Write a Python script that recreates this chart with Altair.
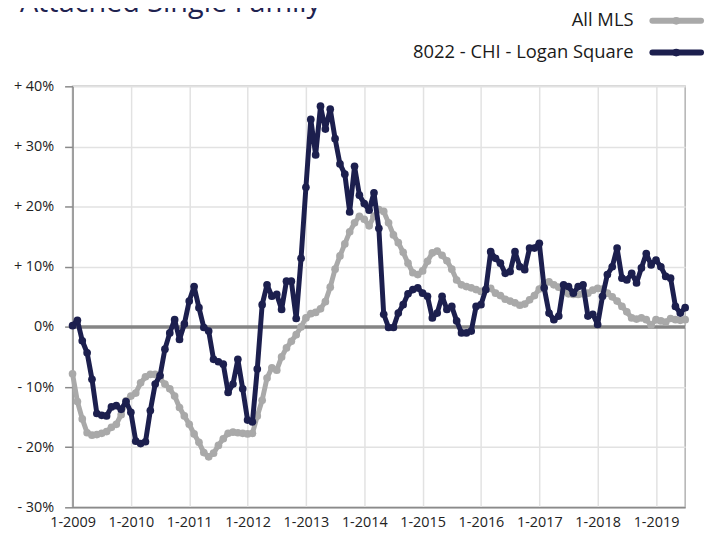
import altair as alt
import pandas as pd

title_text = "Attached Single Family"
series_names = ["All MLS", "8022 - CHI - Logan Square"]
series_colors = ["#a9a9a9", "#1c1f4e"]
first_year = 2009
y_ticks = [-30, -20, -10, 0, 10, 20, 30, 40]
x_tick_months = [0, 12, 24, 36, 48, 60, 72, 84, 96, 108, 120]

# Year-over-year change (%), monthly, Jan 2009 .. Jul 2019
all_mls = [
    -7.8, -12.4, -15.3, -17.6, -18.0, -17.9, -17.7, -17.4, -16.7, -16.2, -14.6, -12.3,  # 2009
    -11.5, -11.0, -9.3, -8.3, -7.9, -7.9, -8.6, -9.5, -10.3, -11.5, -13.4, -14.8,  # 2010
    -16.2, -17.8, -19.2, -20.9, -21.6, -21.0, -19.7, -18.6, -17.7, -17.5, -17.6, -17.7,  # 2011
    -17.8, -17.7, -14.8, -12.2, -8.5, -6.8, -7.2, -5.0, -3.5, -2.4, -1.3, 0.0,  # 2012
    1.5, 2.2, 2.4, 3.0, 4.2, 6.6, 9.6, 11.8, 13.8, 15.8, 17.3, 18.4,  # 2013
    17.9, 16.8, 18.4, 19.5, 19.2, 17.3, 15.3, 14.0, 12.4, 10.6, 9.0, 8.7,  # 2014
    9.3, 10.9, 12.3, 12.6, 11.9, 11.0, 9.6, 7.8, 7.0, 6.7, 6.5, 6.2,  # 2015
    5.9, 6.2, 6.4, 5.6, 5.2, 4.6, 4.3, 4.0, 3.6, 3.8, 4.5, 5.2,  # 2016
    6.3, 7.3, 7.5, 7.0, 6.6, 5.9, 5.5, 5.4, 5.4, 5.5, 5.6, 6.1,  # 2017
    6.4, 6.3, 5.6, 5.0, 4.3, 3.4, 2.5, 1.5, 1.3, 1.5, 1.2, 0.3,  # 2018
    1.2, 1.0, 0.8, 1.4, 1.2, 1.1, 1.2,  # 2019
]

logan_square = [
    0.2, 1.1, -2.3, -4.3, -8.7, -14.4, -14.7, -14.8, -13.3, -13.1, -13.7, -12.4,  # 2009
    -14.2, -19.0, -19.4, -19.1, -13.9, -9.5, -8.1, -3.7, -1.0, 1.2, -2.1, 0.5,  # 2010
    4.3, 6.7, 3.2, -0.1, -0.7, -5.4, -5.8, -6.2, -10.9, -9.5, -5.4, -10.3,  # 2011
    -15.5, -15.8, -7.0, 3.7, 7.0, 5.1, 5.4, 2.9, 7.6, 7.6, 1.4, 11.4,  # 2012
    23.2, 34.5, 28.6, 36.7, 32.9, 36.2, 31.3, 27.1, 25.4, 19.1, 26.7, 21.9,  # 2013
    20.5, 19.4, 22.3, 16.4, 2.1, -0.1, -0.1, 2.3, 3.7, 5.5, 6.2, 6.5,  # 2014
    5.6, 5.1, 1.5, 2.3, 5.1, 2.9, 3.4, 1.0, -1.0, -1.0, -0.7, 3.4,  # 2015
    3.7, 6.2, 12.5, 11.4, 10.6, 8.9, 9.2, 12.5, 10.0, 9.5, 13.1, 13.1,  # 2016
    13.9, 6.5, 2.3, 1.2, 1.8, 7.0, 6.7, 5.6, 6.7, 7.0, 1.8, 2.1,  # 2017
    0.4, 5.1, 8.7, 10.0, 13.1, 8.1, 7.8, 8.9, 7.3, 9.8, 12.2, 10.3,  # 2018
    11.1, 10.0, 8.4, 8.1, 3.4, 2.3, 3.2,  # 2019
]

df_gray = pd.DataFrame({"month": list(range(len(all_mls))), "value": all_mls})
df_navy = pd.DataFrame({"month": list(range(len(logan_square))), "value": logan_square})

FONT = "Open Sans"
last_month = len(all_mls) - 1

x_enc = alt.X(
    "month:Q",
    scale=alt.Scale(domain=[0, last_month], nice=False, zero=False),
    axis=alt.Axis(
        values=x_tick_months,
        labelExpr=f"'1-' + ({first_year} + datum.value / 12)",
        title=None,
        grid=True,
        ticks=False,
        labelFlush=False,
    ),
)
y_enc = alt.Y(
    "value:Q",
    scale=alt.Scale(domain=[-30, 40], nice=False, zero=False),
    axis=alt.Axis(
        values=y_ticks,
        labelExpr="datum.value > 0 ? '+ ' + datum.value + '%' : (datum.value < 0 ? '- ' + (-datum.value) + '%' : '0%')",
        title=None,
        grid=True,
        ticks=True,
        tickSize=8,
    ),
)

zero_rule = alt.Chart(pd.DataFrame({"value": [0]})).mark_rule(
    color="#858585", strokeWidth=3.5
).encode(y=alt.Y("value:Q"))

gray_line = alt.Chart(df_gray).mark_line(
    color=series_colors[0], strokeWidth=5, strokeJoin="round",
    point=alt.OverlayMarkDef(color=series_colors[0], filled=True, size=60, opacity=1),
).encode(x=x_enc, y=y_enc)

navy_line = alt.Chart(df_navy).mark_line(
    color=series_colors[1], strokeWidth=5, strokeJoin="round",
    point=alt.OverlayMarkDef(color=series_colors[1], filled=True, size=60, opacity=1),
).encode(x="month:Q", y="value:Q")

# Title (partly above the visible area as in the reference)
title_layer = alt.Chart(pd.DataFrame({"t": [title_text]})).mark_text(
    align="left", baseline="alphabetic", fontSize=29, font=FONT, color="#1f2350"
).encode(text="t:N", x=alt.value(-53), y=alt.value(-75))

# Manual legend: label on the left, line swatch on the right
legend_layers = []
legend_rows = [(-67, series_names[0], series_colors[0]), (-35, series_names[1], series_colors[1])]
for ypos, name, col in legend_rows:
    ldf = pd.DataFrame({"label": [name]})
    legend_layers.append(
        alt.Chart(ldf).mark_text(
            align="right", baseline="middle", fontSize=18.5, font=FONT, color="#1a1a1a"
        ).encode(text="label:N", x=alt.value(565), y=alt.value(ypos))
    )
    legend_layers.append(
        alt.Chart(ldf).mark_rule(color=col, strokeWidth=6, strokeCap="round").encode(
            x=alt.value(584), x2=alt.value(633), y=alt.value(ypos + 1)
        )
    )
    legend_layers.append(
        alt.Chart(ldf).mark_point(color=col, filled=True, size=60, opacity=1, shape="circle").encode(
            x=alt.value(608), y=alt.value(ypos + 1)
        )
    )

chart = alt.layer(
    zero_rule, gray_line, navy_line, title_layer, *legend_layers
).properties(
    width=617,
    height=424,
    autosize=alt.AutoSizeParams(type="none"),
    padding={"left": 65, "top": 77, "right": 23, "bottom": 28},
).configure_view(
    stroke="#b3b3b3", strokeWidth=1.5
).configure_axis(
    labelFont=FONT,
    labelFontSize=14.5,
    labelColor="#222222",
    gridColor="#e2e2e2",
    gridWidth=1.5,
    domainColor="#8a8a8a",
    domainWidth=1.5,
    tickColor="#8a8a8a",
    tickWidth=1.5,
).configure_axisX(
    labelPadding=8,
).configure_axisY(
    labelPadding=11,
)

chart.save("out.html", embed_options={"renderer": "svg", "actions": False})
